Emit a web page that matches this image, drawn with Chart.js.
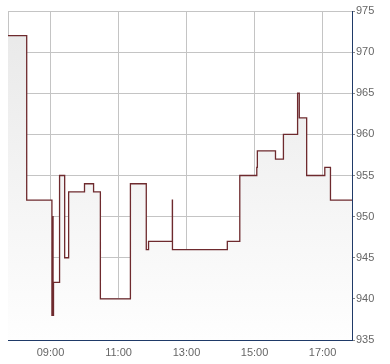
<!DOCTYPE html>
<html>
<head>
<meta charset="utf-8">
<script src="https://cdn.jsdelivr.net/npm/chart.js@4"></script>
<style>
  html, body { margin: 0; padding: 0; background: #ffffff; }
  #wrap { width: 390px; height: 364px; }
</style>
</head>
<body>
<div id="wrap"><canvas id="c" width="390" height="364"></canvas></div>
<script>
// Time in minutes after midnight when each price level starts
const times = [465, 498, 542.5, 543.5, 544.5, 545.3, 556, 565, 572, 600, 616, 628, 681, 709, 713, 755, 755.2, 852, 874, 904, 905, 937, 951, 976, 979, 992, 1024, 1034, 1072];
const prices = [972, 952, 938, 950, 938, 942, 955, 945, 953, 954, 953, 940, 954, 946, 947, 952, 946, 947, 955, 956, 958, 957, 960, 965, 962, 955, 956, 952, 952];
const xTickValues = [465, 540, 660, 780, 900, 1020, 1072];
const xTickLabels = ['', '09:00', '11:00', '13:00', '15:00', '17:00', ''];
const yMin = 935, yMax = 975, yStep = 5;

const points = times.map((t, i) => ({ x: t, y: prices[i] }));
const tickFont = { family: 'Liberation Sans', size: 11 };

new Chart(document.getElementById('c'), {
  type: 'line',
  data: {
    datasets: [{
      data: points,
      stepped: true,
      borderColor: '#6e2a2e',
      borderWidth: 1.3,
      pointRadius: 0,
      fill: 'start',
      backgroundColor: (ctx) => {
        const ca = ctx.chart.chartArea;
        if (!ca) return '#f0f0f0';
        const g = ctx.chart.ctx.createLinearGradient(0, ca.top, 0, ca.bottom);
        g.addColorStop(0, '#e8e8e8');
        g.addColorStop(1, '#fefefe');
        return g;
      }
    }]
  },
  options: {
    responsive: false,
    animation: false,
    layout: { padding: { left: 8, top: 11, right: 0, bottom: 0 } },
    plugins: { legend: { display: false }, tooltip: { enabled: false } },
    scales: {
      x: {
        type: 'linear',
        min: times[0],
        max: times[times.length - 1],
        afterBuildTicks: (s) => { s.ticks = xTickValues.map(v => ({ value: v })); },
        afterFit: (s) => { s.height = 24; },
        grid: { color: '#c4c4c4', lineWidth: 1, drawTicks: false },
        border: { color: '#1f3a68', width: 1 },
        ticks: {
          color: '#666666', font: tickFont, padding: 6, maxRotation: 0, autoSkip: false,
          callback: (v, i) => xTickLabels[i]
        }
      },
      y: {
        position: 'right',
        min: yMin,
        max: yMax,
        afterFit: (s) => { s.width = 38; },
        grid: { color: '#c4c4c4', lineWidth: 1, tickLength: 3, tickColor: '#888888' },
        border: { color: '#1f3a68', width: 1 },
        ticks: { stepSize: yStep, color: '#666666', font: tickFont, padding: 1 }
      }
    }
  }
});
</script>
</body>
</html>
